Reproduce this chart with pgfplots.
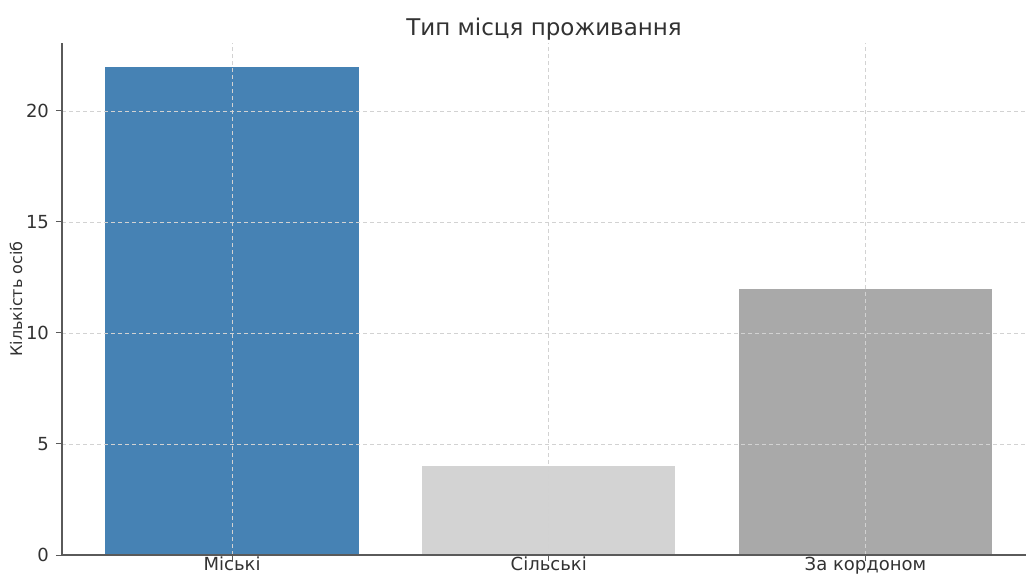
\documentclass[border=0pt]{standalone}
\usepackage{pgfplots}
\pgfplotsset{compat=1.18}
\usepackage{fontspec}
\setmainfont{DejaVu Sans}
\definecolor{steel}{RGB}{70,130,180}
\definecolor{lgray}{RGB}{211,211,211}
\definecolor{dgray}{RGB}{169,169,169}
\definecolor{txt}{RGB}{50,50,50}
\definecolor{spine}{RGB}{90,90,90}
\begin{document}
\begin{tikzpicture}
\begin{axis}[
  scale only axis,
  width=482pt, height=256pt,
  xmin=-0.537, xmax=2.507,
  ymin=0, ymax=23.06,
  axis x line*=bottom, axis y line*=left,
  axis line style={spine, line width=0.6pt, -},
  xtick={0,1,2},
  xticklabels={Міські,Сільські,За кордоном},
  ytick={0,5,10,15,20},
  tick style={spine, line width=0.5pt},
  major tick length=3pt,
  tick align=outside,
  /pgf/number format/assume math mode=true,
  tick label style={font=\fontsize{9}{10}\selectfont, text=txt},
  xticklabel style={yshift=5.5pt},
  grid=major,
  grid style={dashed, gray!35, line width=0.3pt, dash pattern=on 2pt off 1.5pt},
  axis on top,
  ylabel={Кількість осіб},
  ylabel style={font=\fontsize{8}{9}\selectfont, text=txt, yshift=-5pt},
  title={Тип місця проживання},
  title style={font=\fontsize{11.5}{12}\selectfont, text=txt, yshift=-8pt},
  ybar, bar width=0.8, bar shift=0pt,
]
\addplot[fill=steel, draw=none] coordinates {(0,22)};
\addplot[fill=lgray, draw=none] coordinates {(1,4)};
\addplot[fill=dgray, draw=none] coordinates {(2,12)};
\end{axis}
\pgfresetboundingbox
\path[use as bounding box] (-31pt,-10pt) rectangle (482pt,277.5pt);
\end{tikzpicture}
\end{document}
